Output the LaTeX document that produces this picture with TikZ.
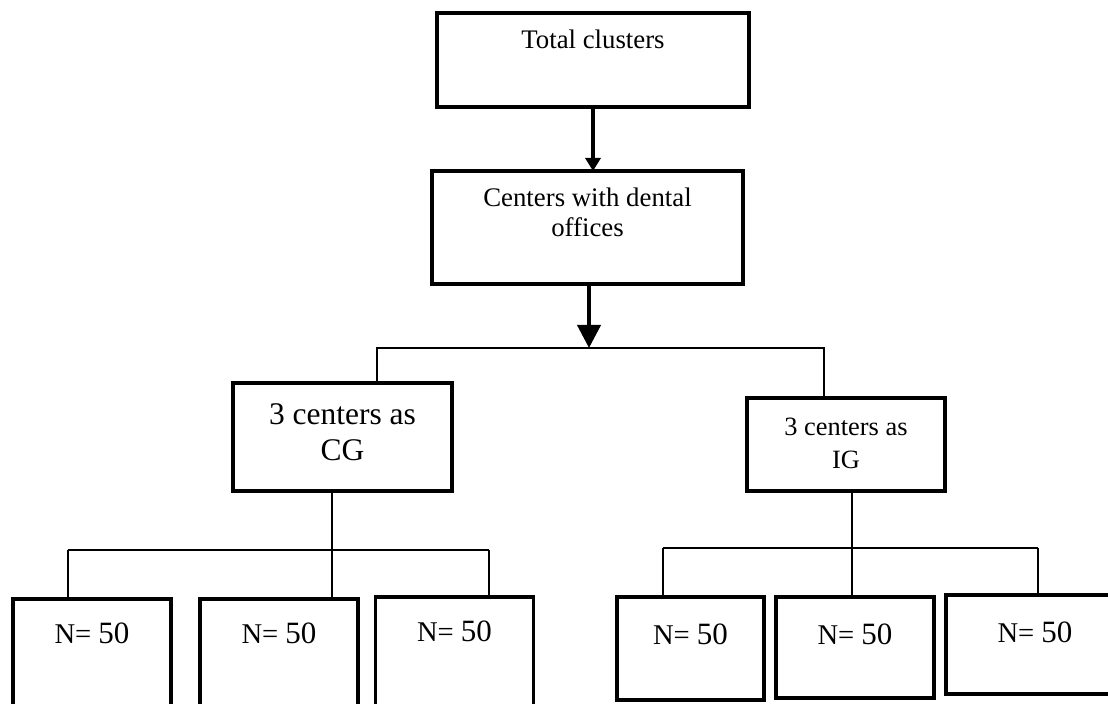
\documentclass[tikz,border=0pt]{standalone}
\usepackage{fontspec}
\setmainfont{Liberation Serif}
\usetikzlibrary{arrows.meta}

\tikzset{
    box/.style={draw, line width=1.7pt, inner sep=0pt, outer sep=0pt},
    boxtext/.style={inner sep=0pt, align=center, font=\fontsize{13.4}{15}\selectfont},
    link/.style={line width=1pt},
    arrowsmall/.style={line width=2pt, -{Triangle[width=7.5pt,length=6.5pt]}},
    arrowbig/.style={line width=2pt, -{Triangle[width=11.5pt,length=11.5pt]}},
}
\newcommand{\nfifty}{\fontsize{14.3}{16}\selectfont N= {\fontsize{15.5}{18}\selectfont 50}}

\begin{document}
\begin{tikzpicture}[x=0.5pt, y=-0.5pt]
    \useasboundingbox (0,0) rectangle (1108,704);
    \clip (0,0) rectangle (1108,704);
    % Top boxes
    \node[box, minimum width=156pt, minimum height=47pt,
        label={[boxtext, anchor=north, yshift=-8.5pt]north:Total clusters}] (Total) at (593,60) {};
    \node[box, minimum width=155.5pt, minimum height=56.5pt,
        label={[boxtext, anchor=north, yshift=-8.5pt]north:Centers with dental\\offices}] (Centers) at (587.5,227.5) {};
    % Groups
    \node[box, minimum width=109.5pt, minimum height=54pt,
        label={[boxtext, font=\fontsize{15.75}{18}\selectfont, anchor=north, yshift=-10pt]north:3 centers as\\CG}] (Group-CG) at (342.5,437) {};
    \node[box, minimum width=99pt, minimum height=46.5pt,
        label={[boxtext, font=\fontsize{13.2}{16.5}\selectfont, anchor=north, yshift=-10pt]north:3 centers as\\IG}] (Group-IG) at (846,444.5) {};
    % Samples of CG
    \foreach \i/\x/\t in {1/92/599, 2/279/599, 3/454.5/597} {
        \node[box, anchor=north, minimum width=79pt, minimum height=95pt,
            label={[boxtext, anchor=north, yshift=-11.5pt]north:\nfifty}] (CG-\i) at (\x,\t) {};
    }
    % Samples of IG
    \foreach \i/\x/\t/\w/\h in {1/690.5/597/73.5pt/51.5pt, 2/855/597/79pt/50.5pt, 3/1035/595/89pt/49.5pt} {
        \node[box, anchor=north, minimum width=\w, minimum height=\h,
            label={[boxtext, anchor=north, yshift=-13pt]north:\nfifty}] (IG-\i) at (\x,\t) {};
    }
    % Arrows
    \draw[arrowsmall] (Total.south) -- (Total.south |- Centers.north);
    \coordinate (Fork-L) at (377,348);
    \coordinate (Fork-M) at (589,348);
    \coordinate (Fork-R) at (824,348);
    \draw[arrowbig] (Centers.south -| Fork-M) -- (Fork-M);
    \draw[link] (Group-CG.north -| Fork-L) -- (Fork-L) -- (Fork-R) -- (Group-IG.north -| Fork-R);
    % CG branches
    \foreach \i/\x in {1/68, 2/332, 3/489} {
        \coordinate (CG-bar-\i) at (\x,550);
    }
    \draw[link] (CG-bar-1) -- (CG-bar-3);
    \draw[link] (Group-CG.south -| CG-bar-2) -- (CG-bar-2);
    \foreach \i in {1,2,3} {
        \draw[link] (CG-bar-\i) -- (CG-bar-\i |- CG-\i.north);
    }
    % IG branches
    \foreach \i/\x in {1/663, 2/852, 3/1038} {
        \coordinate (IG-bar-\i) at (\x,548);
    }
    \draw[link] (IG-bar-1) -- (IG-bar-3);
    \draw[link] (Group-IG.south -| IG-bar-2) -- (IG-bar-2);
    \foreach \i in {1,2,3} {
        \draw[link] (IG-bar-\i) -- (IG-bar-\i |- IG-\i.north);
    }
\end{tikzpicture}
\end{document}
